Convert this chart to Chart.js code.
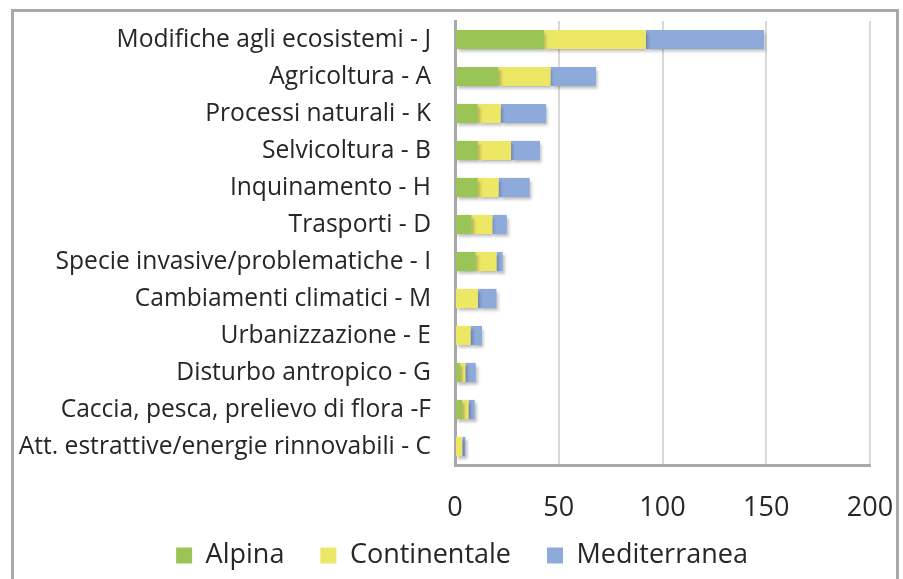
<!DOCTYPE html>
<html lang="it">
<head>
    <meta charset="UTF-8">
    <title>Pressioni e minacce</title>
    <script src="https://cdn.jsdelivr.net/npm/chart.js"></script>
    <style>
        html, body {
            margin: 0;
            padding: 0;
            background: #ffffff;
            overflow: hidden;
        }
        .chart-box {
            position: absolute;
            left: 11px;
            top: 9px;
            width: 882px;
            height: 590px;
            border: 3px solid #a9a9a9;
            border-bottom: none;
            background: #ffffff;
        }
        canvas {
            display: block;
        }
    </style>
</head>
<body>
    <div class="chart-box">
        <canvas id="threats-chart" width="882" height="584"></canvas>
    </div>

    <script>
        // categorie (dall'alto verso il basso)
        const categories = [
            'Modifiche agli ecosistemi - J',
            'Agricoltura - A',
            'Processi naturali - K',
            'Selvicoltura - B',
            'Inquinamento - H',
            'Trasporti - D',
            'Specie invasive/problematiche - I',
            'Cambiamenti climatici - M',
            'Urbanizzazione - E',
            'Disturbo antropico - G',
            'Caccia, pesca, prelievo di flora -F',
            'Att. estrattive/energie rinnovabili - C'
        ];

        const alpina       = [43, 21, 11, 11, 11, 8, 10, 0, 0, 2.5, 3.5, 0];
        const continentale = [49, 25, 11, 16, 10, 10, 10, 11, 7.5, 2.5, 3, 3.5];
        const mediterranea = [57, 22, 22, 14, 15, 7, 3, 9, 5.5, 5, 3, 1.5];

        const xTicks = [0, 50, 100, 150, 200];

        // ombra leggera sotto le barre, come nell'originale
        const barShadow = {
            id: 'barShadow',
            beforeDatasetsDraw(chart) {
                const c = chart.ctx;
                c.save();
                c.shadowColor = 'rgba(0, 0, 0, 0.25)';
                c.shadowBlur = 3;
                c.shadowOffsetX = 2;
                c.shadowOffsetY = 3;
            },
            afterDatasetsDraw(chart) {
                chart.ctx.restore();
            }
        };

        // la legenda sta un po' più in alto e a destra
        const legendShift = {
            id: 'legendShift',
            afterLayout(chart) {
                const lg = chart.legend;
                lg.top -= 17;
                lg.bottom -= 17;
                lg.left += 20;
                lg.right += 20;
            }
        };

        const ctx = document.getElementById('threats-chart').getContext('2d');
        const chart = new Chart(ctx, {
            type: 'bar',
            data: {
                labels: categories,
                datasets: [
                    { label: 'Alpina', data: alpina, backgroundColor: '#9bc457' },
                    { label: 'Continentale', data: continentale, backgroundColor: '#ede766' },
                    { label: 'Mediterranea', data: mediterranea, backgroundColor: '#8eaadb' }
                ]
            },
            options: {
                indexAxis: 'y',
                responsive: false,
                animation: false,
                devicePixelRatio: 1,
                barPercentage: 0.52,
                categoryPercentage: 1,
                layout: {
                    padding: { top: 9, right: 26, bottom: 0, left: 0 }
                },
                scales: {
                    x: {
                        stacked: true,
                        min: 0,
                        max: 200,
                        afterBuildTicks(scale) {
                            scale.ticks = xTicks.map(v => ({ value: v }));
                        },
                        afterFit(scale) {
                            scale.height = 58;
                            scale.paddingLeft = 0;
                            scale.paddingRight = 0;
                        },
                        grid: {
                            color: '#d9d9d9',
                            lineWidth: 2,
                            drawTicks: false
                        },
                        border: { color: '#a9a9a9', width: 3 },
                        ticks: {
                            padding: 30,
                            color: '#262626',
                            font: { family: 'Open Sans', size: 27, lineHeight: 1 }
                        }
                    },
                    y: {
                        stacked: true,
                        afterFit(scale) {
                            scale.width = 441;
                            scale.paddingTop = 0;
                            scale.paddingBottom = 0;
                        },
                        grid: { display: false, drawTicks: false },
                        border: { color: '#a9a9a9', width: 3 },
                        ticks: {
                            padding: 24,
                            color: '#262626',
                            font: { family: 'Open Sans', size: 24.6 }
                        }
                    }
                },
                plugins: {
                    legend: {
                        position: 'bottom',
                        labels: {
                            boxWidth: 16,
                            boxHeight: 16,
                            padding: 36,
                            color: '#262626',
                            font: { family: 'Open Sans', size: 27 }
                        }
                    },
                    tooltip: { enabled: false }
                }
            },
            plugins: [barShadow, legendShift]
        });
    </script>
</body>
</html>
